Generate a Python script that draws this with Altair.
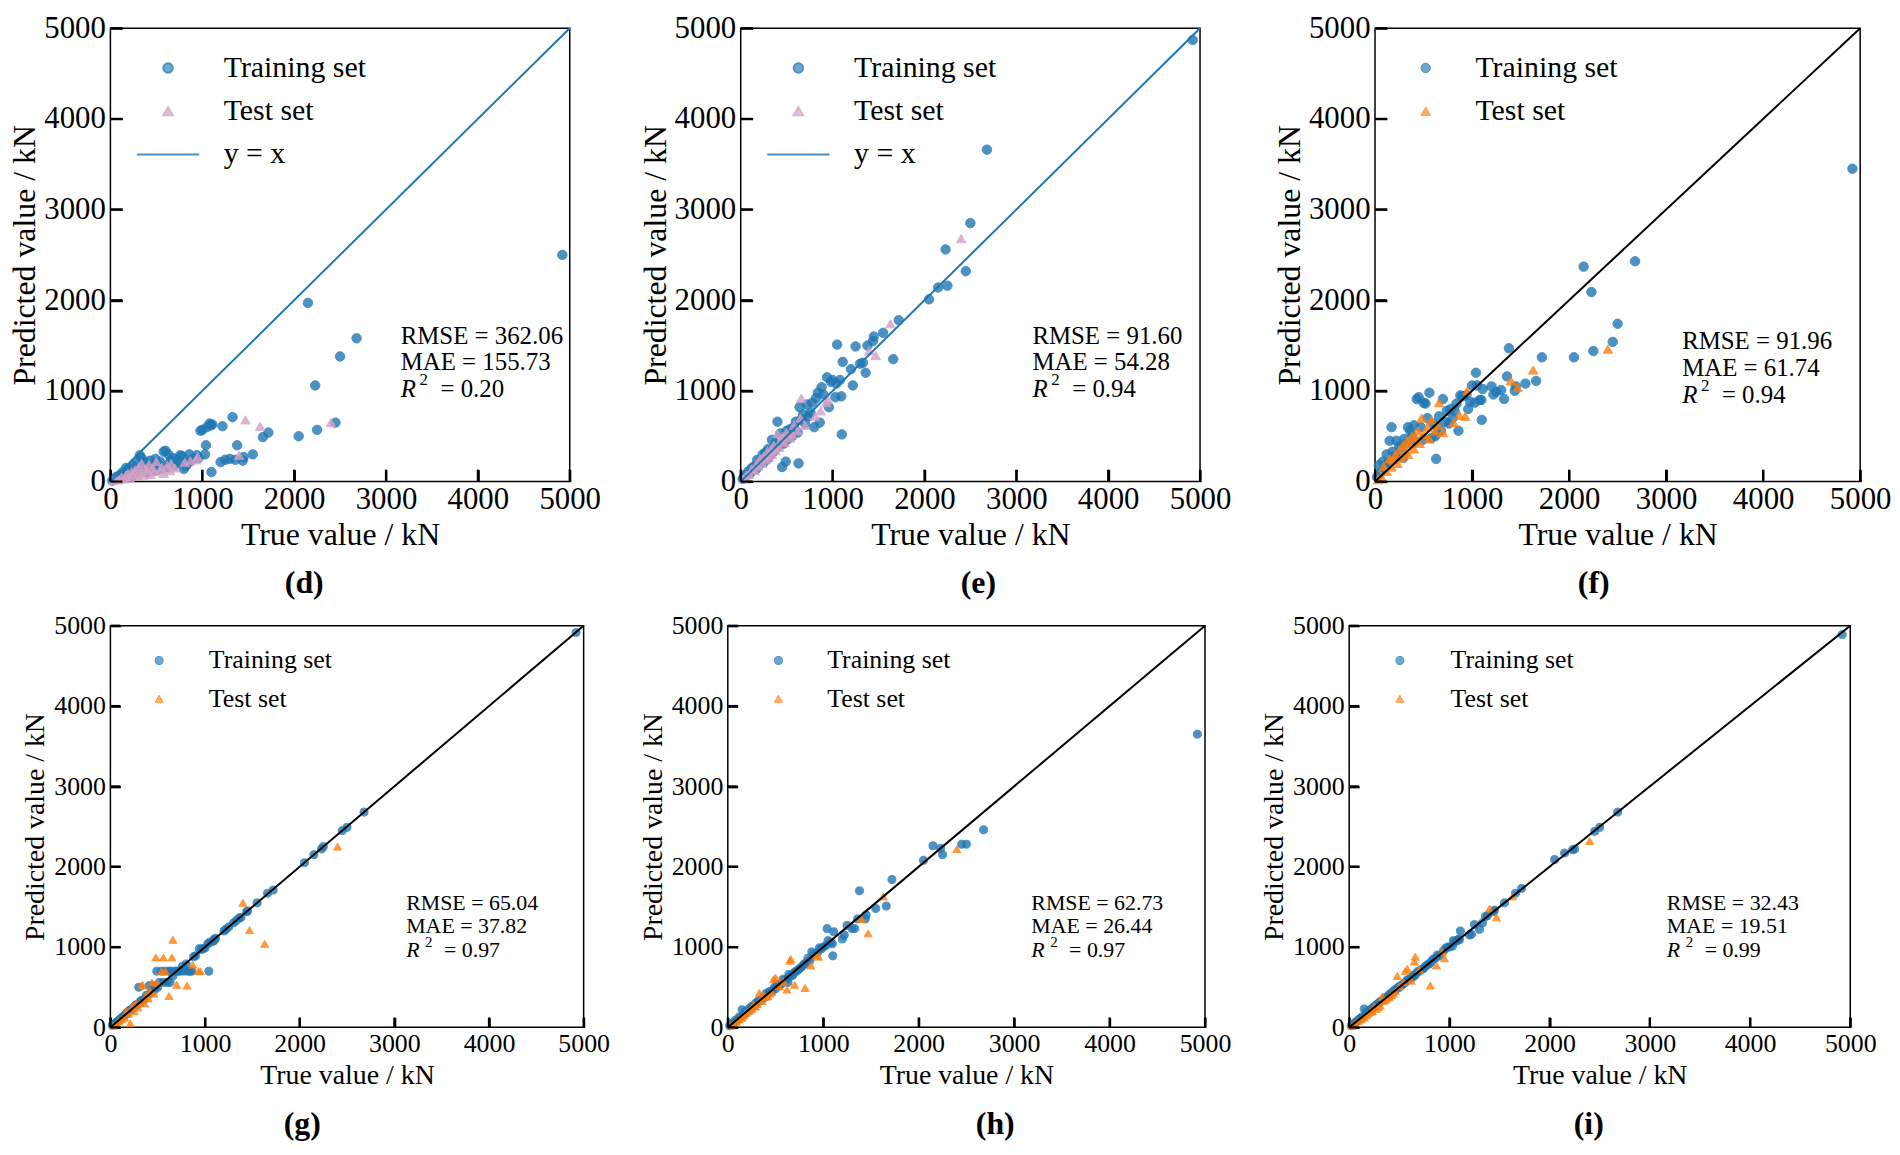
import altair as alt
import pandas as pd

FONT = "Liberation Serif"
BLUE = "#1f77b4"
ORANGE = "#ff7f0e"
PINK = "#d6a0c6"
BLACK = "#000000"

panel_labels = ["(d)", "(e)", "(f)", "(g)", "(h)", "(i)"]
rmse_vals = ["362.06", "91.60", "91.96", "65.04", "62.73", "32.43"]
mae_vals = ["155.73", "54.28", "61.74", "37.82", "26.44", "19.51"]
r2_vals = ["0.20", "0.94", "0.94", "0.97", "0.97", "0.99"]
series_names = ["Training set", "Test set", "y = x"]
diag_vals = [0, 5000]
tick_vals = [0, 1000, 2000, 3000, 4000, 5000]

train_true = [4920, 2680, 2500, 2450, 2250, 2230, 2150, 2050, 1720, 1660,
              1550, 1450, 1440, 1380, 1360, 1330, 1300, 1250, 1220, 1200,
              1110, 1100, 1095, 1080, 1050, 1040, 1030, 1000, 980, 960,
              940, 900, 880, 860, 840, 820, 800, 780, 760, 740,
              720, 700, 680, 660, 640, 630, 620, 600, 580, 560,
              540, 520, 500, 490, 470, 450, 430, 410, 400, 380,
              360, 340, 320, 300, 290, 270, 250, 240, 220, 200,
              180, 170, 150, 130, 120, 100, 80, 60, 40, 20]

test_true = [2400, 1630, 1470, 1400, 950, 930, 870, 810, 700, 660,
             650, 620, 580, 560, 540, 500, 480, 460, 440, 420,
             400, 380, 360, 340, 330, 310, 290, 270, 250, 230,
             210, 190, 170, 150, 120, 90, 60, 30]

pred_train_d = [2500, 1580, 1380, 650, 570, 1060, 1970, 500, 540, 490,
                300, 270, 230, 400, 240, 710, 250, 240, 610, 215,
                630, 105, 620, 640, 600, 400, 300, 570, 560, 260,
                290, 250, 230, 300, 200, 170, 140, 280, 290, 240,
                210, 180, 260, 230, 200, 300, 160, 340, 330, 150,
                220, 190, 120, 250, 170, 140, 230, 180, 100, 210,
                160, 260, 290, 130, 220, 90, 170, 60, 140, 110,
                80, 150, 60, 100, 40, 70, 30, 50, 20, 10]
pred_test_d = [650, 610, 680, 290, 275, 240, 230, 210, 150, 200,
               120, 180, 90, 160, 130, 220, 110, 150, 80, 190,
               120, 140, 70, 200, 100, 160, 60, 130, 80, 110,
               40, 90, 70, 30, 50, 20, 30, 10]

pred_train_e = [4870, 3660, 2850, 2320, 2160, 2560, 2140, 2010, 1780, 1350,
                1640, 1600, 1550, 1500, 1200, 1310, 1300, 1490, 1060, 1240,
                1320, 520, 940, 1120, 1510, 1080, 930, 1120, 1100, 820,
                1150, 960, 1040, 650, 980, 920, 600, 870, 760, 720,
                850, 640, 740, 690, 820, 200, 540, 660, 600, 500,
                580, 470, 560, 220, 420, 160, 530, 380, 660, 420,
                330, 460, 290, 360, 250, 320, 210, 300, 230, 180,
                240, 140, 170, 120, 150, 90, 110, 70, 60, 30]
pred_test_e = [2680, 1740, 1390, 1440, 900, 870, 780, 720, 620, 920,
               700, 560, 620, 520, 480, 540, 430, 500, 460, 380,
               530, 340, 400, 300, 350, 270, 330, 240, 280, 200,
               250, 170, 190, 120, 140, 80, 70, 30]

pred_train_f = [3450, 2430, 1740, 1540, 1440, 2090, 2370, 1370, 1370, 1110,
                1080, 1050, 1000, 1470, 1160, 910, 1010, 990, 960, 1050,
                1020, 680, 900, 900, 1060, 1200, 870, 1060, 880, 800,
                950, 940, 950, 560, 860, 780, 700, 800, 640, 780,
                660, 910, 560, 720, 600, 250, 500, 640, 480, 980,
                700, 860, 870, 460, 600, 930, 910, 440, 620, 500,
                560, 600, 420, 470, 260, 360, 390, 300, 450, 280,
                330, 600, 450, 200, 300, 150, 220, 100, 180, 50]
pred_test_f = [1460, 1230, 1040, 1110, 1000, 720, 730, 650, 540, 870,
               620, 560, 680, 470, 600, 520, 700, 420, 560, 480,
               360, 500, 420, 300, 450, 330, 400, 260, 350, 200,
               300, 240, 160, 250, 110, 170, 60, 20]

pred_train_g = [4915, 2680, 2490, 2450, 2250, 2220, 2150, 2050, 1710, 1670,
                1550, 1450, 1440, 1370, 1360, 1330, 1300, 1250, 1220, 1200,
                1110, 1100, 1080, 1070, 1060, 700, 1040, 990, 980, 970,
                980, 890, 880, 700, 700, 700, 790, 700, 760, 700,
                700, 700, 700, 640, 700, 560, 700, 560, 700, 560,
                700, 560, 500, 700, 470, 520, 430, 520, 400, 400,
                350, 340, 330, 500, 290, 280, 250, 240, 220, 210,
                190, 170, 150, 130, 120, 100, 80, 60, 40, 30]
pred_test_g = [2250, 1040, 1210, 1550, 700, 700, 780, 520, 530, 1090,
               870, 390, 700, 870, 700, 550, 870, 420, 560, 450,
               360, 400, 300, 530, 520, 300, 250, 300, 200, 260,
               50, 170, 200, 120, 100, 80, 40, 20]

pred_train_h = [3650, 2460, 2280, 2280, 2150, 2230, 2260, 2080, 1840, 1510,
                1480, 1400, 1350, 1700, 1350, 1230, 1230, 1270, 1150, 1100,
                1190, 890, 1040, 1060, 1080, 1230, 1020, 1000, 980, 990,
                930, 910, 940, 830, 860, 800, 790, 760, 740, 720,
                700, 690, 650, 640, 660, 560, 600, 590, 600, 540,
                520, 530, 480, 500, 460, 450, 440, 400, 420, 370,
                360, 330, 330, 290, 300, 260, 260, 230, 230, 190,
                190, 160, 220, 120, 130, 90, 90, 60, 50, 20]
pred_test_h = [2220, 1630, 1170, 1350, 880, 900, 770, 490, 530, 850,
               830, 470, 580, 560, 510, 620, 600, 440, 420, 390,
               380, 400, 330, 340, 430, 290, 260, 280, 230, 210,
               200, 180, 150, 120, 100, 70, 40, 20]

pred_train_i = [4890, 2680, 2490, 2440, 2220, 2210, 2170, 2090, 1730, 1670,
                1550, 1460, 1440, 1390, 1380, 1300, 1220, 1280, 1160, 1150,
                1200, 1090, 1100, 1080, 1060, 1080, 1010, 1000, 1000, 980,
                950, 890, 900, 860, 850, 820, 790, 780, 760, 730,
                720, 700, 690, 650, 650, 620, 620, 600, 590, 560,
                540, 520, 510, 490, 480, 460, 440, 410, 410, 380,
                370, 340, 330, 310, 290, 280, 260, 240, 230, 210,
                190, 180, 230, 130, 120, 100, 80, 60, 40, 20]
pred_test_i = [2320, 1630, 1370, 1480, 860, 940, 770, 520, 720, 880,
               820, 580, 730, 700, 560, 510, 640, 450, 420, 400,
               380, 360, 340, 330, 380, 270, 250, 230, 260, 200,
               190, 170, 150, 120, 100, 80, 50, 20]

preds_train = [pred_train_d, pred_train_e, pred_train_f, pred_train_g, pred_train_h, pred_train_i]
preds_test = [pred_test_d, pred_test_e, pred_test_f, pred_test_g, pred_test_h, pred_test_i]

TOP = dict(tick_fs=31, title_fs=32, leg_fs=30, stat_fs=25, sup_fs=17, lab_fs=32, tick_len=12, ms=90,
           ylab_pad=5, ytitle_pad=2, xlab_pad=3, xtitle_pad=5, lab_off=18, stat_gap=27,
           r_w=19, sup_dy=-9, eq_dx=40, leg_row=13.5)
BOT = dict(tick_fs=26, title_fs=28, leg_fs=26, stat_fs=22, sup_fs=15, lab_fs=32, tick_len=10, ms=65,
           ylab_pad=5, ytitle_pad=4, xlab_pad=3, xtitle_pad=5, lab_off=20, stat_gap=23.5,
           r_w=19, sup_dy=-8, eq_dx=38, leg_row=12.5)

LINE_SYMBOL = "M-6.6,0L6.6,0"


def make_panel(k, w, h, st, with_line, test_col, line_col, leg_x, leg_y, leg_off,
               stat_fx, stat_fy, title_dx):
    df = pd.DataFrame({
        "true": train_true + test_true,
        "pred": preds_train[k] + preds_test[k],
        "series": [series_names[0]] * len(train_true) + [series_names[1]] * len(test_true),
    })
    diag = pd.DataFrame({"true": diag_vals, "pred": diag_vals})
    xticks = pd.DataFrame({"true": tick_vals})
    yticks = pd.DataFrame({"pred": tick_vals})
    tl = st["tick_len"]

    xenc = alt.X("true:Q", scale=alt.Scale(domain=[0, 5000], nice=False),
                 axis=alt.Axis(values=tick_vals, title="True value / kN", format="d",
                               labelFontSize=st["tick_fs"], titleFontSize=st["title_fs"],
                               ticks=True, tickSize=tl, offset=-tl, tickWidth=2.2, tickColor=BLACK,
                               labelPadding=st["xlab_pad"], titlePadding=st["xtitle_pad"],
                               labelFlush=False, labelOverlap=False))
    yenc = alt.Y("pred:Q", scale=alt.Scale(domain=[0, 5000], nice=False),
                 axis=alt.Axis(values=tick_vals, title="Predicted value / kN", format="d",
                               labelFontSize=st["tick_fs"], titleFontSize=st["title_fs"],
                               ticks=True, tickSize=tl, offset=-tl, tickWidth=2.2, tickColor=BLACK,
                               labelPadding=st["ylab_pad"], titlePadding=st["ytitle_pad"],
                               labelOverlap=False))

    if with_line:
        dom = series_names
        cols = [BLUE, test_col, line_col]
        shapes = ["circle", "triangle-up", LINE_SYMBOL]
    else:
        dom = series_names[:2]
        cols = [BLUE, test_col]
        shapes = ["circle", "triangle-up"]

    leg = alt.Legend(orient="none", legendX=leg_x, legendY=leg_y, title=None, padding=0,
                     labelFont=FONT, labelFontSize=st["leg_fs"], labelColor=BLACK,
                     labelOffset=leg_off, rowPadding=st["leg_row"], labelLimit=0,
                     symbolSize=st["ms"], symbolStrokeWidth=2 if with_line else 1)
    pts = alt.Chart(df).mark_point(filled=True, opacity=0.8, strokeWidth=1, size=st["ms"]).encode(
        x=xenc, y=yenc,
        fill=alt.Fill("series:N", scale=alt.Scale(domain=dom, range=cols), legend=leg),
        stroke=alt.Stroke("series:N", scale=alt.Scale(domain=dom, range=cols), legend=leg),
        shape=alt.Shape("series:N", scale=alt.Scale(domain=dom, range=shapes), legend=leg),
    )

    line = alt.Chart(diag).mark_line(color=line_col, strokeWidth=2).encode(x=xenc, y=yenc)

    # inward tick marks at the tick values
    xt = alt.Chart(xticks).mark_tick(color=BLACK, orient="vertical", size=tl, thickness=2.2,
                                     opacity=1).encode(x=xenc, y=alt.value(h - tl / 2.0))
    yt = alt.Chart(yticks).mark_tick(color=BLACK, orient="horizontal", size=tl, thickness=2.2,
                                     opacity=1).encode(y=yenc, x=alt.value(tl / 2.0))

    sdf = pd.DataFrame({"l1": ["RMSE = " + rmse_vals[k]], "l2": ["MAE = " + mae_vals[k]],
                        "l3": ["= " + r2_vals[k]]})
    x0 = stat_fx * w
    y1 = stat_fy * h
    y2 = y1 + st["stat_gap"]
    y3 = y2 + st["stat_gap"]
    base = alt.Chart(sdf)
    tkw = dict(align="left", baseline="middle", font=FONT, fontSize=st["stat_fs"], color=BLACK)
    t1 = base.mark_text(**tkw).encode(x=alt.value(x0), y=alt.value(y1), text="l1:N")
    t2 = base.mark_text(**tkw).encode(x=alt.value(x0), y=alt.value(y2), text="l2:N")
    t3 = base.mark_text(fontStyle="italic", **tkw).encode(x=alt.value(x0), y=alt.value(y3),
                                                          text=alt.value("R"))
    t4 = base.mark_text(align="left", baseline="middle", font=FONT, fontSize=st["sup_fs"],
                        color=BLACK).encode(x=alt.value(x0 + st["r_w"]),
                                            y=alt.value(y3 + st["sup_dy"]), text=alt.value("2"))
    t5 = base.mark_text(**tkw).encode(x=alt.value(x0 + st["eq_dx"]), y=alt.value(y3), text="l3:N")

    return alt.layer(pts, line, xt, yt, t1, t2, t3, t4, t5).properties(
        width=w, height=h,
        title=alt.TitleParams(text=panel_labels[k], orient="bottom", font=FONT,
                              fontSize=st["lab_fs"], fontWeight="bold", color=BLACK,
                              offset=st["lab_off"], anchor="middle", dx=title_dx),
    ).resolve_scale(fill="shared", stroke="shared", shape="shared")


H1 = 456
H2 = 404
p_d = make_panel(0, 462, H1, TOP, True, PINK, BLUE, 43, 25, 41, 0.632, 0.678, -36)
p_e = make_panel(1, 462, H1, TOP, True, PINK, BLUE, 43, 25, 41, 0.635, 0.678, 8)
p_f = make_panel(2, 488, H1, TOP, False, ORANGE, BLACK, 36, 25, 35, 0.633, 0.69, -24)
p_g = make_panel(3, 476, H2, BOT, False, ORANGE, BLACK, 36, 22, 37, 0.625, 0.69, -45)
p_h = make_panel(4, 480, H2, BOT, False, ORANGE, BLACK, 38, 22, 36, 0.636, 0.69, 29)
p_i = make_panel(5, 504, H2, BOT, False, ORANGE, BLACK, 38, 22, 38, 0.634, 0.69, -11)

chart = alt.concat(
    p_d, p_e, p_f, p_g, p_h, p_i, columns=3, spacing={"column": 28, "row": 12}, align="none"
).resolve_scale(
    x="independent", y="independent", fill="independent", stroke="independent",
    shape="independent"
).resolve_legend(
    fill="independent", stroke="independent", shape="independent"
).properties(padding=0, background="white").configure_view(
    stroke=BLACK, strokeWidth=1.5
).configure_axis(
    domain=False, grid=False, labelFont=FONT, titleFont=FONT, labelColor=BLACK, titleColor=BLACK,
    titleFontWeight="normal"
)

chart.save("out.html", embed_options={"renderer": "svg", "actions": False})
